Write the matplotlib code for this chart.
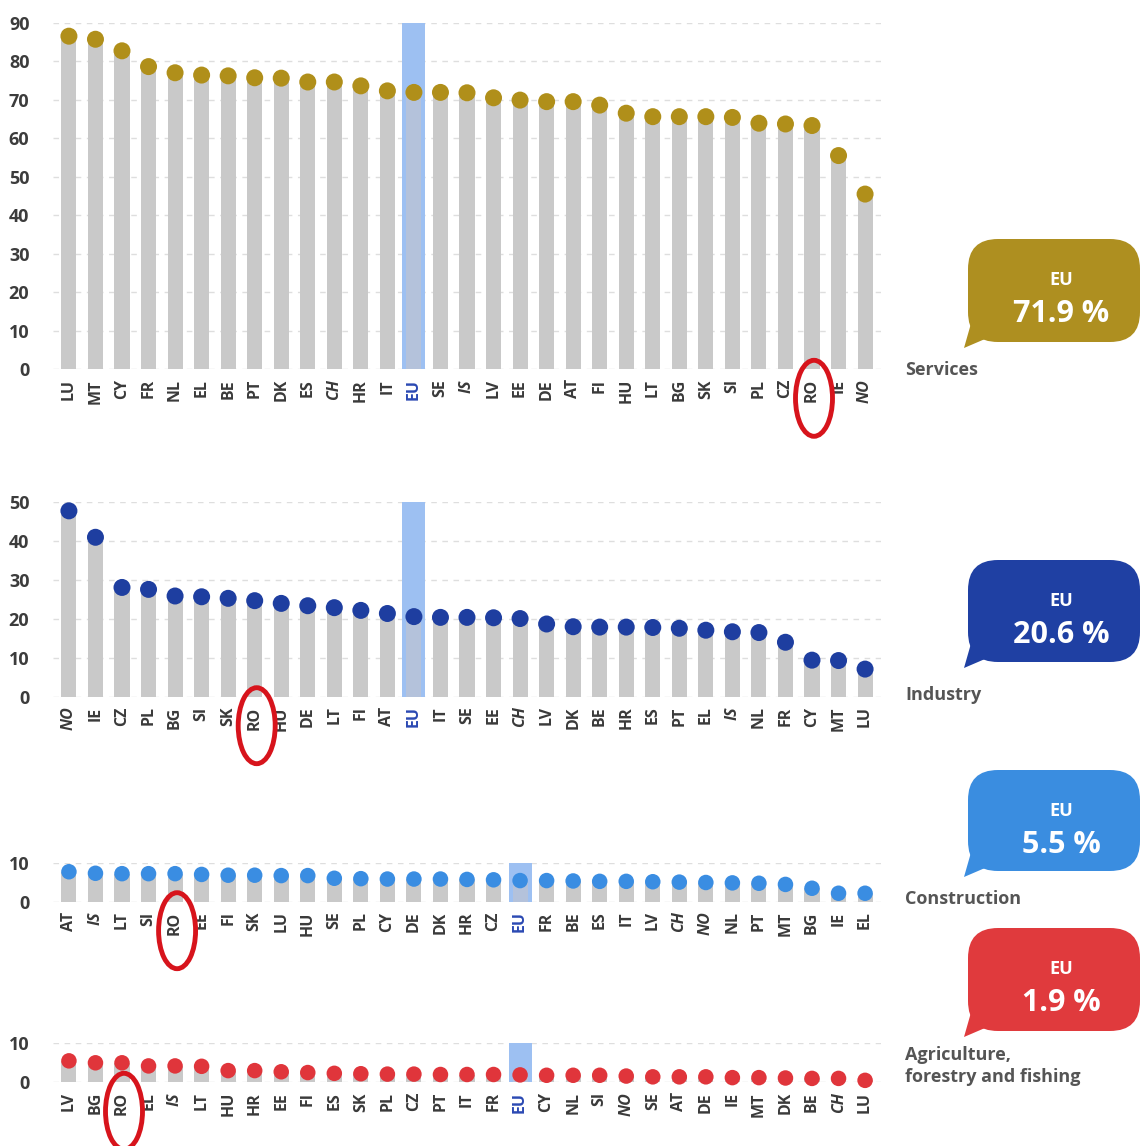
import matplotlib
matplotlib.use("Agg")
import matplotlib.pyplot as plt
from matplotlib.patches import Ellipse, FancyBboxPatch, Polygon
import numpy as np

plt.rcParams['font.family'] = ['Open Sans', 'DejaVu Sans']

# Employment share by sector (%), countries sorted by share
services_countries = ["LU", "MT", "CY", "FR", "NL", "EL", "BE", "PT", "DK", "ES", "CH",
                      "HR", "IT", "EU", "SE", "IS", "LV", "EE", "DE", "AT", "FI", "HU",
                      "LT", "BG", "SK", "SI", "PL", "CZ", "RO", "IE", "NO"]
services_values = [86.5, 85.7, 82.7, 78.6, 77.0, 76.4, 76.2, 75.7, 75.6, 74.6, 74.6,
                   73.6, 72.3, 71.9, 71.9, 71.8, 70.5, 69.9, 69.5, 69.5, 68.6, 66.5,
                   65.6, 65.6, 65.6, 65.4, 63.9, 63.7, 63.3, 55.5, 45.5]

industry_countries = ["NO", "IE", "CZ", "PL", "BG", "SI", "SK", "RO", "HU", "DE", "LT",
                      "FI", "AT", "EU", "IT", "SE", "EE", "CH", "LV", "DK", "BE", "HR",
                      "ES", "PT", "EL", "IS", "NL", "FR", "CY", "MT", "LU"]
industry_values = [47.8, 41.0, 28.1, 27.6, 25.9, 25.7, 25.3, 24.7, 24.0, 23.4, 22.9,
                   22.2, 21.4, 20.6, 20.4, 20.4, 20.3, 20.1, 18.7, 18.0, 17.9, 17.9,
                   17.8, 17.6, 17.1, 16.7, 16.5, 14.0, 9.4, 9.3, 7.1]

construction_countries = ["AT", "IS", "LT", "SI", "RO", "EE", "FI", "SK", "LU", "HU", "SE",
                          "PL", "CY", "DE", "DK", "HR", "CZ", "EU", "FR", "BE", "ES", "IT",
                          "LV", "CH", "NO", "NL", "PT", "MT", "BG", "IE", "EL"]
construction_values = [7.8, 7.4, 7.3, 7.3, 7.3, 7.1, 6.9, 6.9, 6.8, 6.8, 6.1,
                       6.0, 5.9, 5.9, 5.9, 5.8, 5.7, 5.5, 5.5, 5.4, 5.3, 5.3,
                       5.2, 5.1, 5.0, 4.9, 4.8, 4.5, 3.5, 2.2, 2.2]

agriculture_countries = ["LV", "BG", "RO", "EL", "IS", "LT", "HU", "HR", "EE", "FI", "ES",
                         "SK", "PL", "CZ", "PT", "IT", "FR", "EU", "CY", "NL", "SI", "NO",
                         "SE", "AT", "DE", "IE", "MT", "DK", "BE", "CH", "LU"]
agriculture_values = [5.5, 5.0, 5.0, 4.2, 4.2, 4.1, 3.0, 3.0, 2.7, 2.5, 2.3,
                      2.2, 2.1, 2.1, 2.0, 2.0, 2.0, 1.9, 1.8, 1.8, 1.8, 1.6,
                      1.4, 1.4, 1.4, 1.2, 1.2, 1.1, 1.0, 1.0, 0.5]

sector_names = ["Services", "Industry", "Construction", "Agriculture,\nforestry and fishing"]
eu_values = [71.9, 20.6, 5.5, 1.9]
y_maxima = [90, 50, 10, 10]
highlight_country = "RO"
non_eu_countries = {"CH", "IS", "NO"}

W, H = 1142, 1146
fig = plt.figure(figsize=(W / 100, H / 100), dpi=100)

# pixel rows of the y-max line and the baseline for each panel
panel_rows = [(22.7, 369.3), (502.3, 696.7), (863.3, 901.7), (1043.3, 1082.3)]
dot_colors = ["#b08f1a", "#1e3ea0", "#3a8de2", "#e0353b"]
bubble_colors = ["#ae8f20", "#1f40a3", "#3a8de0", "#e03a3d"]
dot_sizes = [17, 17, 15.5, 15.5]
bubble_rows = [(239, 342), (560, 662), (770, 871), (928, 1031)]
name_rows = [370, 695, 899, 1066]

data = [
    (services_countries, services_values),
    (industry_countries, industry_values),
    (construction_countries, construction_values),
    (agriculture_countries, agriculture_values),
]

axes = []
for k, (countries, values) in enumerate(data):
    top, base = panel_rows[k]
    ax = fig.add_axes([53 / W, 1 - base / H, 828 / W, (base - top) / H])
    n = len(countries)
    x = np.arange(n)
    ymax = y_maxima[k]
    ax.set_xlim(-0.6, n - 0.4)
    ax.set_ylim(0, ymax)

    i_eu = countries.index("EU")
    ax.bar(i_eu, ymax, width=0.87, color="#9dc0f2", zorder=1, linewidth=0)
    bar_colors = ["#b4c2db" if c == "EU" else "#c9c9c9" for c in countries]
    ax.bar(x, values, width=0.57, color=bar_colors, zorder=2, linewidth=0)
    ms = dot_sizes[k] * 72 / 100
    ax.scatter(x, values, s=ms ** 2, color=dot_colors[k], zorder=3,
               edgecolors="none", clip_on=False)

    ax.set_yticks(np.arange(0, ymax + 1, 10))
    ax.yaxis.grid(True, linestyle=(0, (4, 4)), color="#dedede", linewidth=1)
    ax.set_axisbelow(True)
    for s in ax.spines.values():
        s.set_visible(False)
    ax.tick_params(axis="y", length=0, pad=17, labelsize=13, labelcolor="#3c3c3c")
    for lbl in ax.get_yticklabels():
        lbl.set_fontweight("bold")

    ax.set_xticks(x)
    ax.set_xticklabels(countries, rotation=90, fontsize=11.5, color="#3a3a3a",
                       fontweight="bold")
    ax.tick_params(axis="x", length=0, pad=7)
    for lbl in ax.get_xticklabels():
        t = lbl.get_text()
        if t == "EU":
            lbl.set_color("#2b49b3")
        if t in non_eu_countries:
            lbl.set_fontstyle("italic")
    axes.append(ax)

# overlay in pixel coordinates for callouts and markers
ov = fig.add_axes([0, 0, 1, 1], zorder=10)
ov.set_xlim(0, W)
ov.set_ylim(H, 0)
ov.axis("off")
ov.patch.set_alpha(0)

for k, ax in enumerate(axes):
    countries = data[k][0]
    # ring around the highlighted country's label
    i_ro = countries.index(highlight_country)
    xd, yd = ax.transData.transform((i_ro, 0))
    ov.add_patch(Ellipse((xd + 2, (H - yd) + 29), 37, 76, fill=False,
                         edgecolor="#d7141c", linewidth=3.5, zorder=5))

    # speech bubble with the EU value
    bt, bb = bubble_rows[k]
    c = bubble_colors[k]
    ov.add_patch(FancyBboxPatch((968, bt), 172, bb - bt,
                                boxstyle="round,pad=0,rounding_size=30",
                                facecolor=c, edgecolor="none", zorder=4))
    ov.add_patch(Polygon([(972, bb - 22), (964, bb + 6), (992, bb - 6)],
                         closed=True, facecolor=c, edgecolor="none", zorder=4))
    ov.text(1061, bt + 41, "EU", color="white", fontsize=13, fontweight="bold",
            ha="center", va="center", zorder=6)
    ov.text(1061, bt + 75, f"{eu_values[k]} %", color="white", fontsize=22,
            fontweight="bold", ha="center", va="center", zorder=6)

    ov.text(905, name_rows[k], sector_names[k], color="#555555", fontsize=13,
            fontweight="bold", ha="left", va="center", linespacing=1.35, zorder=6)

fig.savefig("out.png", dpi=100, facecolor="white")
